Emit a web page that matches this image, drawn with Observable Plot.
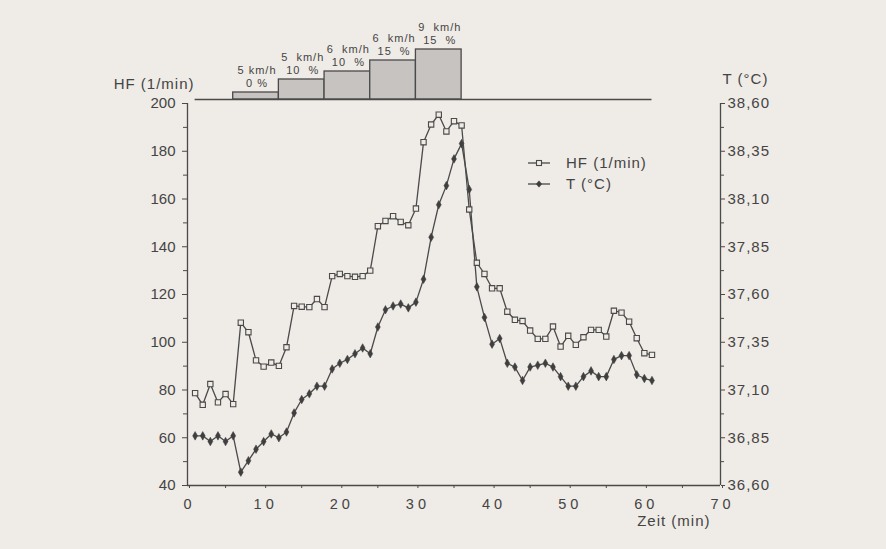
<!DOCTYPE html>
<html>
<head>
<meta charset="utf-8">
<script src="https://cdn.jsdelivr.net/npm/d3@7"></script>
<script src="https://cdn.jsdelivr.net/npm/@observablehq/plot@0.6"></script>
<style>
  body { margin: 0; background: #efebe6; }
  #wrap { position: relative; width: 886px; height: 549px; background: #efebe6; overflow: hidden;
          font-family: "Liberation Sans", Arial, sans-serif; color: #444; }
  #wrap > svg { position: absolute; left: 0; top: 0; }
  #wrap g[aria-label="x-axis tick label"] text { letter-spacing: 4px; }
  #wrap g[aria-label="y-axis tick label"][text-anchor="start"] text { letter-spacing: 1px; }
  #wrap g[aria-label="text"] text { letter-spacing: 1px; }
  #legend { position: absolute; left: 528px; top: 152px; font-size: 15px; line-height: 21px; color: #444; letter-spacing: 1px; }
  #legend div { display: flex; align-items: center; }
  #legend svg { margin-right: 15px; }
</style>
</head>
<body>
<div id="wrap"></div>
<script>
// ---- data ----
const minutes = [1,2,3,4,5,6,7,8,9,10,11,12,13,14,15,16,17,18,19,20,21,22,23,24,25,26,27,28,29,30,
  31,32,33,34,35,36,37,38,39,40,41,42,43,44,45,46,47,48,49,50,51,52,53,54,55,56,57,58,59,60,61];
const hf = [78.7,73.8,82.5,74.8,78.3,74.1,108.2,104.2,92.4,89.8,91.5,90.1,97.9,115.2,114.9,114.7,118.1,114.7,
  127.7,128.6,127.7,127.4,127.7,130.0,148.6,150.8,152.8,150.4,149.0,156.0,183.8,191.2,195.3,188.3,192.6,190.8,
  155.6,133.3,128.6,122.6,122.6,112.8,109.4,108.9,104.9,101.4,101.4,106.6,98.2,102.7,98.9,102.1,105.2,105.2,
  102.4,113.2,112.4,108.6,101.7,95.4,94.7];
const temp = [36.86,36.86,36.83,36.86,36.83,36.86,36.67,36.73,36.79,36.83,36.87,36.85,36.88,36.98,37.05,37.08,
  37.12,37.12,37.21,37.24,37.26,37.29,37.32,37.29,37.43,37.52,37.54,37.55,37.53,37.56,37.68,37.90,38.07,38.17,
  38.31,38.39,38.15,37.64,37.48,37.34,37.37,37.24,37.22,37.15,37.22,37.23,37.24,37.22,37.17,37.12,37.12,37.17,
  37.20,37.17,37.17,37.26,37.28,37.28,37.18,37.16,37.15];

const stageStart = [6, 12, 18, 24, 30];
const stageEnd = [12, 18, 24, 30, 36];
const stageSpeed = ["5 km/h", "5  km/h", "6  km/h", "6  km/h", "9  km/h"];
const stageGrade = ["0 %", "10  %", "10  %", "15  %", "15  %"];
const stageLoad = [7, 20, 28, 39, 50];

const xTicks = [0, 10, 20, 30, 40, 50, 60, 70];
const xMinorTicks = [5, 15, 25, 35, 45, 55, 65];
const hfTicks = [40, 60, 80, 100, 120, 140, 160, 180, 200];
const hfMinorTicks = [50, 70, 90, 110, 130, 150, 170, 190];
const tTicks = [36.60, 36.85, 37.10, 37.35, 37.60, 37.85, 38.10, 38.35, 38.60];
const tMinorTicks = [36.725, 36.975, 37.225, 37.475, 37.725, 37.975, 38.225, 38.475];

// ---- styling ----
const bg = "#efebe6";
const ink = "#4a4a4a";
const font = "Liberation Sans, Arial, sans-serif";

// map temperature onto the HF axis (36.60..38.60 <-> 40..200)
const tLo = tTicks[0], tHi = tTicks[tTicks.length - 1];
const hLo = hfTicks[0], hHi = hfTicks[hfTicks.length - 1];
const tToY = t => hLo + (t - tLo) / (tHi - tLo) * (hHi - hLo);
const yToT = y => tLo + (y - hLo) / (hHi - hLo) * (tHi - tLo);

const hfRows = minutes.map((m, i) => ({m, v: hf[i]}));
const tRows = minutes.map((m, i) => ({m, v: tToY(temp[i])}));
const stages = stageStart.map((s, i) => ({s, e: stageEnd[i], load: stageLoad[i],
  label: stageSpeed[i] + "\n" + stageGrade[i]}));

const common = {
  width: 886, marginLeft: 187, marginRight: 166,
  style: {background: "transparent", color: "#444", fontFamily: font, overflow: "visible"}
};

// ---- top panel: treadmill stages ----
const topPanel = Plot.plot({
  ...common,
  height: 103, marginTop: 0, marginBottom: 4,
  x: {domain: [xTicks[0], xTicks[xTicks.length - 1]], axis: null},
  y: {domain: [0, 99], axis: null},
  marks: [
    Plot.rect(stages, {x1: "s", x2: "e", y1: 0, y2: "load", fill: "#c6c3c0", stroke: ink, strokeWidth: 1.3}),
    Plot.ruleY([0], {x1: minutes[0], x2: minutes[minutes.length - 1], stroke: ink, strokeWidth: 1.3}),
    Plot.text(stages, {x: d => (d.s + d.e) / 2, y: "load", text: "label", lineAnchor: "bottom",
      dy: -6, dx: 1, fontSize: 11, lineHeight: 1.18, fill: "#444"})
  ]
});

// ---- main chart ----
const mainChart = Plot.plot({
  ...common,
  height: 549, marginTop: 103, marginBottom: 64,
  x: {domain: [xTicks[0], xTicks[xTicks.length - 1]]},
  y: {domain: [hLo, hHi]},
  marks: [
    // axis lines
    Plot.ruleX([xTicks[0]], {y1: hLo, y2: hHi, stroke: ink, strokeWidth: 1.3}),
    Plot.ruleX([xTicks[xTicks.length - 1]], {y1: hLo, y2: hHi, stroke: ink, strokeWidth: 1.3}),
    Plot.ruleY([hLo], {x1: xTicks[0], x2: xTicks[xTicks.length - 1], stroke: ink, strokeWidth: 1.3}),
    // left axis
    Plot.axisY(hfTicks, {anchor: "left", tickSize: 5, tickPadding: 7, fontSize: 15, label: null, stroke: ink}),
    Plot.axisY(hfMinorTicks, {anchor: "left", tickSize: 4, tickFormat: () => "", label: null, stroke: ink}),
    // right axis (temperature)
    Plot.axisY(tTicks.map(tToY), {anchor: "right", tickSize: 4, tickPadding: 3, fontSize: 15, label: null,
      stroke: ink, tickFormat: y => yToT(y).toFixed(2).replace(".", ",")}),
    Plot.axisY(tMinorTicks.map(tToY), {anchor: "right", tickSize: 3, tickFormat: () => "", label: null, stroke: ink}),
    // x axis
    Plot.axisX(xTicks, {anchor: "bottom", tickSize: 3, tickPadding: 10, fontSize: 14.5, label: null, stroke: ink, dx: 2}),
    Plot.axisX(xMinorTicks, {anchor: "bottom", tickSize: 3, tickFormat: () => "", label: null, stroke: ink}),
    // axis titles
    Plot.text(["HF (1/min)"], {frameAnchor: "top-left", textAnchor: "end", dx: 7, dy: -25, fontSize: 15, fill: "#444"}),
    Plot.text(["T (°C)"], {frameAnchor: "top-right", textAnchor: "start", dx: 2, dy: -30, fontSize: 15, fill: "#444"}),
    Plot.text(["Zeit (min)"], {frameAnchor: "bottom-right", textAnchor: "end", dx: -10, dy: 40, fontSize: 15, fill: "#444"}),
    // series
    Plot.line(tRows, {x: "m", y: "v", stroke: ink, strokeWidth: 1.3}),
    Plot.dot(tRows, {x: "m", y: "v", symbol: "diamond", r: 2.6, fill: "#3f3f3f", stroke: "#3f3f3f", strokeWidth: 0.5}),
    Plot.line(hfRows, {x: "m", y: "v", stroke: ink, strokeWidth: 1.3}),
    Plot.dot(hfRows, {x: "m", y: "v", symbol: "square", r: 3, fill: bg, stroke: ink, strokeWidth: 1.1})
  ]
});

const wrap = document.getElementById("wrap");
wrap.appendChild(mainChart);
wrap.appendChild(topPanel);

// ---- legend ----
const legend = document.createElement("div");
legend.id = "legend";
const items = [
  {name: "HF (1/min)", sym: `<rect x="8.5" y="3.5" width="5" height="5" fill="${bg}" stroke="${ink}" stroke-width="1.1"/>`},
  {name: "T (°C)", sym: `<path d="M11,2.5 L14,6 L11,9.5 L8,6 Z" fill="#3f3f3f"/>`}
];
for (const it of items) {
  const row = document.createElement("div");
  row.innerHTML = `<svg width="23" height="12"><line x1="0" x2="22" y1="6" y2="6" stroke="${ink}" stroke-width="1.3"/>${it.sym}</svg><span>${it.name}</span>`;
  legend.appendChild(row);
}
wrap.appendChild(legend);
</script>
</body>
</html>
